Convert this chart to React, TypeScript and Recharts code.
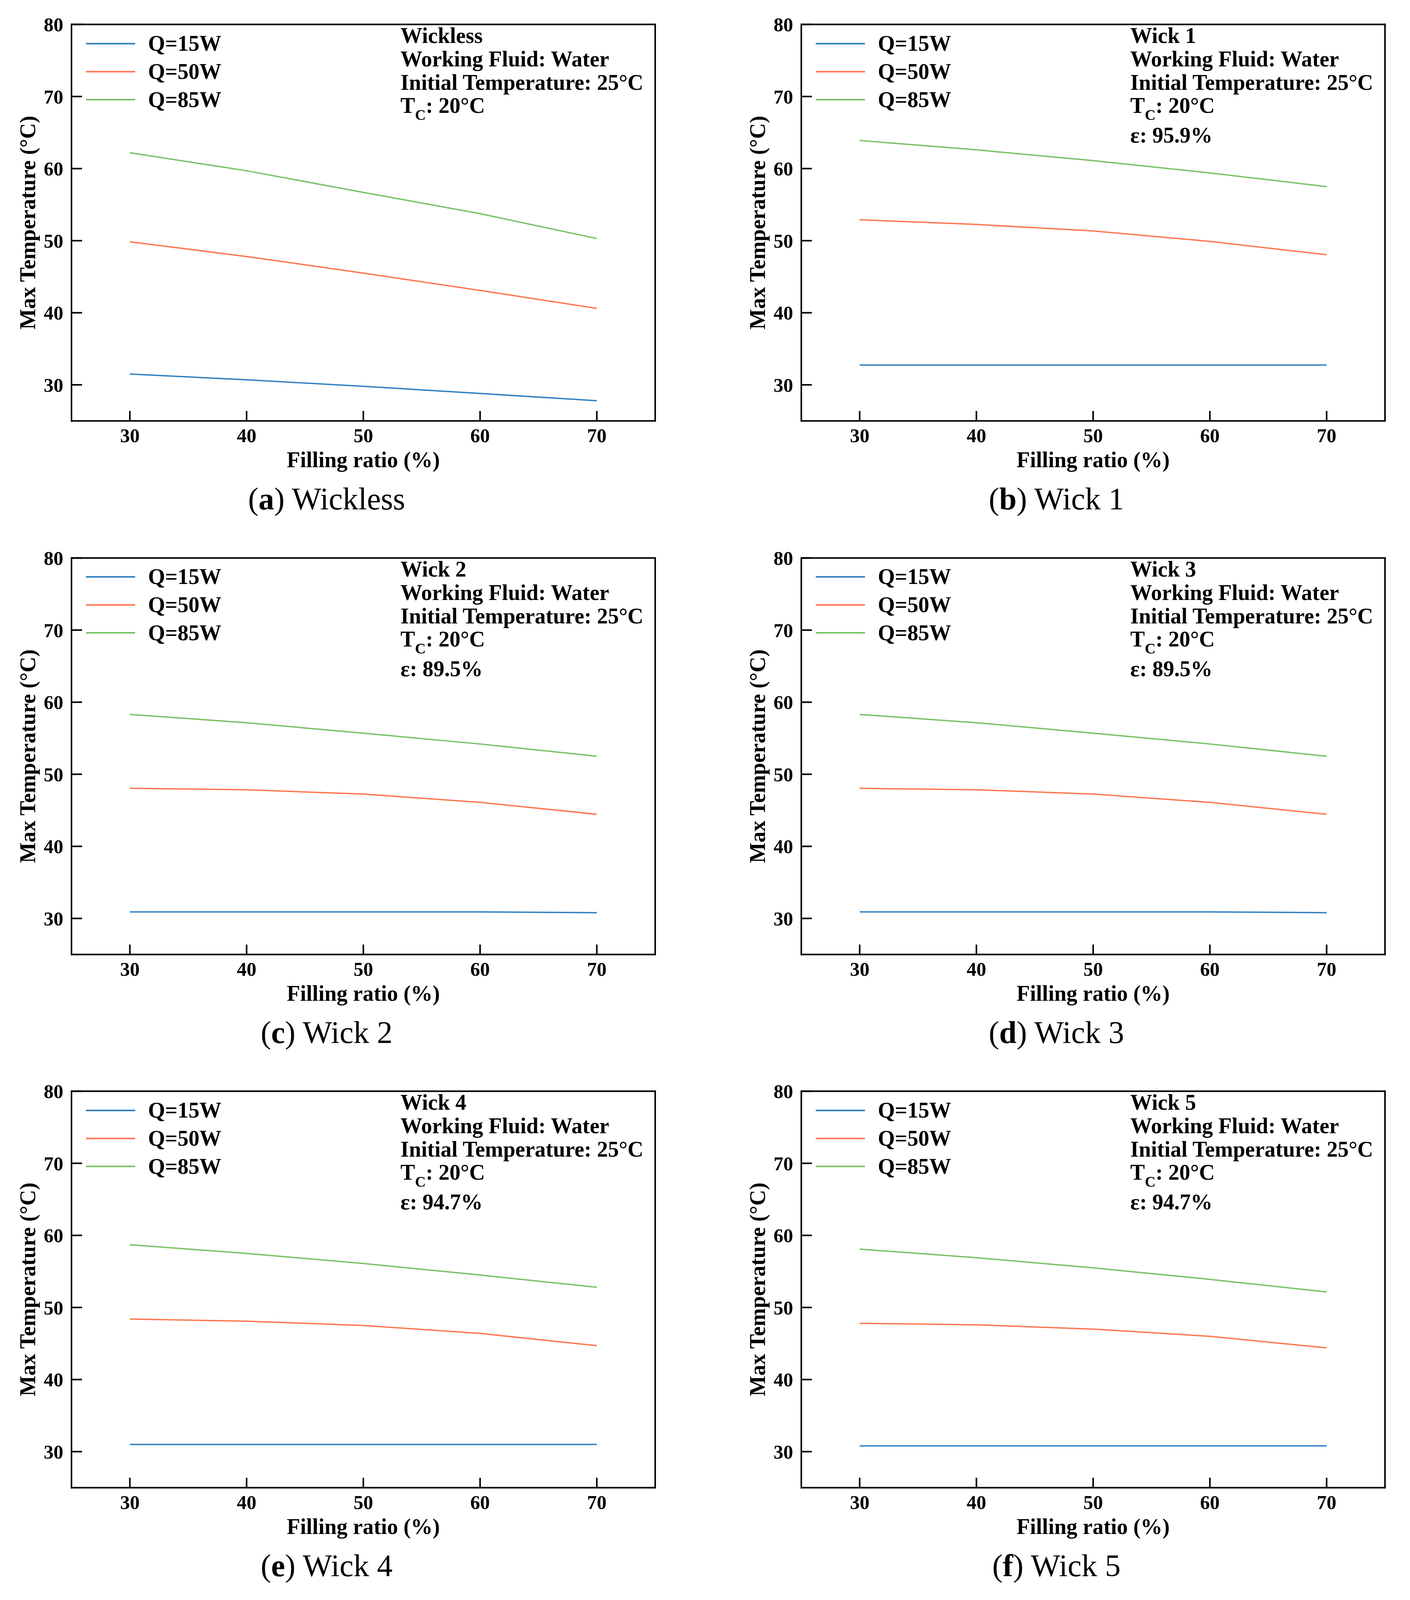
import React from 'react';
import { LineChart, Line, XAxis, YAxis, Legend } from 'recharts';

// ---------- data ----------
const fillingRatio = [30, 40, 50, 60, 70];
const xTicks = [30, 40, 50, 60, 70];
const xMinorTicks = [35, 45, 55, 65];
const yTicks = [30, 40, 50, 60, 70, 80];
const yMinorTicks = [35, 45, 55, 65, 75];
const seriesNames = ['Q=15W', 'Q=50W', 'Q=85W'];
const seriesKeys = ['q15', 'q50', 'q85'];
const seriesColors = ['#2f7fc0', '#ff7650', '#78c265'];

const wicklessQ15 = [31.5, 30.7, 29.8, 28.8, 27.8];
const wicklessQ50 = [49.85, 47.8, 45.5, 43.1, 40.6];
const wicklessQ85 = [62.2, 59.7, 56.7, 53.75, 50.3];

const wick1Q15 = [32.75, 32.75, 32.75, 32.75, 32.75];
const wick1Q50 = [52.9, 52.25, 51.35, 49.9, 48.05];
const wick1Q85 = [63.9, 62.6, 61.1, 59.4, 57.5];

const wick2Q15 = [30.9, 30.9, 30.9, 30.9, 30.8];
const wick2Q50 = [48.05, 47.85, 47.25, 46.1, 44.45];
const wick2Q85 = [58.3, 57.15, 55.7, 54.2, 52.5];

const wick3Q15 = [30.9, 30.9, 30.9, 30.9, 30.8];
const wick3Q50 = [48.05, 47.85, 47.25, 46.1, 44.45];
const wick3Q85 = [58.3, 57.15, 55.7, 54.2, 52.5];

const wick4Q15 = [31.0, 31.0, 31.0, 31.0, 31.0];
const wick4Q50 = [48.4, 48.1, 47.5, 46.4, 44.7];
const wick4Q85 = [58.7, 57.5, 56.1, 54.5, 52.8];

const wick5Q15 = [30.8, 30.8, 30.8, 30.8, 30.8];
const wick5Q50 = [47.8, 47.6, 47.0, 46.0, 44.4];
const wick5Q85 = [58.1, 56.9, 55.5, 53.9, 52.15];

const panelLetters = ['a', 'b', 'c', 'd', 'e', 'f'];
const panelTitles = ['Wickless', 'Wick 1', 'Wick 2', 'Wick 3', 'Wick 4', 'Wick 5'];
const panelEps = ['', '95.9%', '89.5%', '89.5%', '94.7%', '94.7%'];
const panelSeries = [
  [wicklessQ15, wicklessQ50, wicklessQ85],
  [wick1Q15, wick1Q50, wick1Q85],
  [wick2Q15, wick2Q50, wick2Q85],
  [wick3Q15, wick3Q50, wick3Q85],
  [wick4Q15, wick4Q50, wick4Q85],
  [wick5Q15, wick5Q50, wick5Q85],
];

// ---------- layout (reference pixel units; vertical values scaled to the visible viewport) ----------
const PAGE_W = 3609;
const PAGE_H = 4520;
const SY =
  typeof window !== 'undefined' && window.innerHeight > 0
    ? Math.min(1, Math.max(0.5, window.innerHeight / PAGE_H))
    : 1;

const colLefts = [183, 2051];
const ROW_STEP = 1507;
const PLOT_W = 1494;
const PLOT_H = 1120;
const ML = 183;
const MT = 69;
const MR = 60;
const MB = 300;
const CW = ML + PLOT_W + MR;
const AX = 1; // thickness reserved by each axis

const sy = (v: number) => v * SY;
const MTs = sy(MT);
const PHs = sy(PLOT_H);
const MBs = sy(MB);
const CH = MTs + PHs + MBs;

const FONT = "'Liberation Serif', 'Times New Roman', serif";
const TICK_FONT = 50;
const TEXT_FONT = 56;
const ANN_FONT = 56;
const SUB_FONT = 38;
const CAP_FONT = 80;
const axisLineStyle = { stroke: '#000', strokeWidth: 4, strokeLinecap: 'square' as const };
const tickLineStyle = { stroke: '#000', strokeWidth: 4 };
const tickStyle = { fill: '#000', fontSize: TICK_FONT, fontWeight: 700, fontFamily: FONT };

const renderLegend = (props: any) => {
  const payload =
    props && props.payload && props.payload.length
      ? props.payload
      : seriesNames.map((n, i) => ({ value: n, color: seriesColors[i] }));
  return (
    <svg width={420} height={sy(260)} style={{ overflow: 'visible' }}>
      {payload.map((entry: any, i: number) => {
        const y = sy(44 + i * 79);
        return (
          <g key={i}>
            <line x1={7} x2={133} y1={y} y2={y} stroke={entry.color} strokeWidth={4} />
            <text x={166} y={y + 0.33 * TEXT_FONT} fontFamily={FONT} fontWeight={700} fontSize={TEXT_FONT} fill="#000">
              {entry.value}
            </text>
          </g>
        );
      })}
    </svg>
  );
};

function Panel({ idx }: { idx: number }) {
  const left = colLefts[idx % 2];
  const row = Math.floor(idx / 2);
  const series = panelSeries[idx];
  const data = fillingRatio.map((x, i) => ({
    x,
    q15: series[0][i],
    q50: series[1][i],
    q85: series[2][i],
  }));
  const annX = ML + 842;
  const annBase = sy(MT + 46) + 6;
  const lines = [panelTitles[idx], 'Working Fluid: Water', 'Initial Temperature: 25\u00B0C'];
  const xTickLen = sy(28);
  const xMinorLen = sy(17);
  const xTickMargin = sy(60) + xTickLen - 0.71 * TICK_FONT;
  return (
    <div style={{ position: 'absolute', left: left - ML, top: sy(row * ROW_STEP), width: CW, height: CH }}>
      <LineChart
        width={CW}
        height={CH}
        data={data}
        margin={{ top: MTs - AX, left: ML - 2 * AX, right: MR - AX, bottom: MBs - 2 * AX }}
      >
        <XAxis
          dataKey="x"
          type="number"
          domain={[25, 75]}
          ticks={xTicks}
          interval={0}
          height={AX}
          tickSize={-xTickLen}
          tickMargin={xTickMargin}
          axisLine={axisLineStyle}
          tickLine={tickLineStyle}
          tick={tickStyle}
        />
        <XAxis
          xAxisId="minorX"
          type="number"
          domain={[25, 75]}
          ticks={xMinorTicks}
          interval={0}
          height={AX}
          tickSize={-xMinorLen}
          axisLine={false}
          tickLine={tickLineStyle}
          tickFormatter={() => ''}
        />
        <XAxis
          xAxisId="topX"
          orientation="top"
          type="number"
          domain={[25, 75]}
          height={AX}
          tick={false}
          tickLine={false}
          axisLine={axisLineStyle}
        />
        <YAxis
          type="number"
          domain={[25, 80]}
          ticks={yTicks}
          interval={0}
          width={AX}
          tickSize={-27}
          tickMargin={48}
          axisLine={axisLineStyle}
          tickLine={tickLineStyle}
          tick={tickStyle}
        />
        <YAxis
          yAxisId="minorY"
          type="number"
          domain={[25, 80]}
          ticks={yMinorTicks}
          interval={0}
          width={AX}
          tickSize={-17}
          axisLine={false}
          tickLine={tickLineStyle}
          tickFormatter={() => ''}
        />
        <YAxis
          yAxisId="rightY"
          orientation="right"
          type="number"
          domain={[25, 80]}
          width={AX}
          tick={false}
          tickLine={false}
          axisLine={axisLineStyle}
        />
        <Legend
          verticalAlign="middle"
          align="center"
          content={renderLegend}
          wrapperStyle={{ position: 'absolute', left: ML + 30, top: sy(MT + 10), width: 420, height: sy(260) }}
        />
        {seriesKeys.map((k, i) => (
          <Line
            key={k}
            type="linear"
            dataKey={k}
            name={seriesNames[i]}
            stroke={seriesColors[i]}
            strokeWidth={3.5}
            dot={false}
            activeDot={false}
            isAnimationActive={false}
          />
        ))}
      </LineChart>
      <svg width={CW} height={CH} style={{ position: 'absolute', left: 0, top: 0, pointerEvents: 'none' }}>
        <g fontFamily={FONT} fontWeight={700} fontSize={ANN_FONT} fill="#000">
          {lines.map((t, i) => (
            <text key={i} x={annX} y={annBase + sy(i * 66)}>
              {t}
            </text>
          ))}
          <text x={annX} y={annBase + sy(197)}>
            <tspan>T</tspan>
            <tspan fontSize={SUB_FONT} dy={18}>
              C
            </tspan>
            <tspan dy={-18}>: 20{'\u00B0'}C</tspan>
          </text>
          {panelEps[idx] ? (
            <text x={annX} y={annBase + sy(281)}>
              {'\u03B5: ' + panelEps[idx]}
            </text>
          ) : null}
        </g>
        <text
          transform={`translate(${72 + 0.33 * TEXT_FONT}, ${sy(MT + PLOT_H / 2)}) rotate(-90)`}
          textAnchor="middle"
          fontFamily={FONT}
          fontWeight={700}
          fontSize={TEXT_FONT}
          fill="#000"
        >
          Max Temperature ({'\u00B0'}C)
        </text>
        <text
          x={ML + PLOT_W / 2}
          y={sy(MT + PLOT_H + 131)}
          textAnchor="middle"
          fontFamily={FONT}
          fontWeight={700}
          fontSize={TEXT_FONT}
          fill="#000"
        >
          Filling ratio (%)
        </text>
        <text x={836} y={sy(MT + PLOT_H + 250)} textAnchor="middle" fontFamily={FONT} fontSize={CAP_FONT} fill="#000">
          (<tspan fontWeight={700}>{panelLetters[idx]}</tspan>) {panelTitles[idx]}
        </text>
      </svg>
    </div>
  );
}

export default function App() {
  return (
    <div
      style={{
        position: 'relative',
        margin: -8,
        width: PAGE_W,
        height: sy(PAGE_H),
        background: '#fff',
        overflow: 'hidden',
      }}
    >
      {panelLetters.map((_, i) => (
        <Panel key={i} idx={i} />
      ))}
    </div>
  );
}
